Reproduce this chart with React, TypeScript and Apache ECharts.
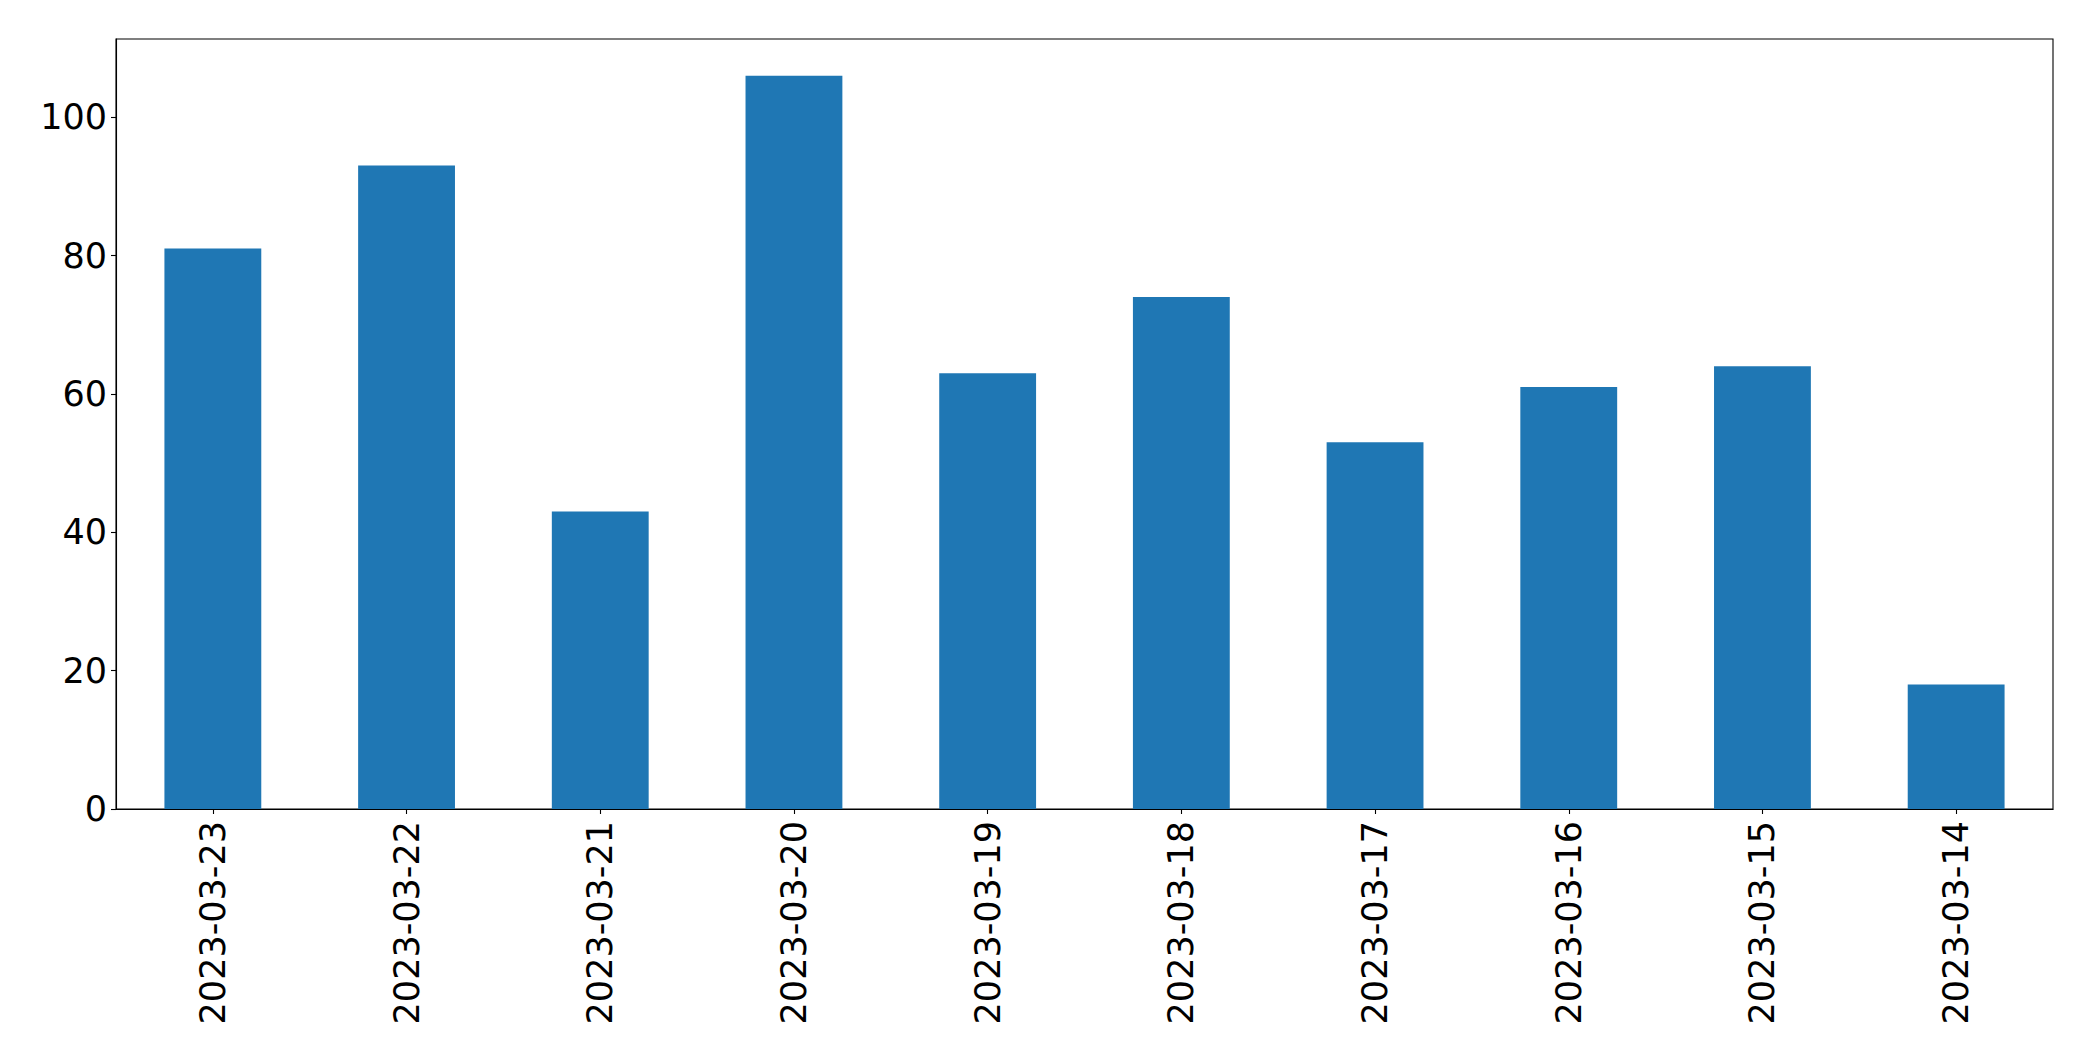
import React, { useEffect, useRef } from "react";
import * as echarts from "echarts";

const categories = [
  "2023-03-23",
  "2023-03-22",
  "2023-03-21",
  "2023-03-20",
  "2023-03-19",
  "2023-03-18",
  "2023-03-17",
  "2023-03-16",
  "2023-03-15",
  "2023-03-14",
];
const values = [81, 93, 43, 106, 63, 74, 53, 61, 64, 18];
const yMin = 0;
const yMax = 111.3;
const yInterval = 20;

export default function App() {
  const ref = useRef<HTMLDivElement>(null);
  useEffect(() => {
    if (!ref.current) return;
    const chart = echarts.init(ref.current, null, { renderer: "svg" });
    const font = "DejaVu Sans";
    chart.setOption({
      animation: false,
      backgroundColor: "#ffffff",
      grid: {
        left: 116,
        top: 39,
        width: 1937,
        height: 770,
        show: true,
        borderColor: "#000000",
        borderWidth: 1.1,
        backgroundColor: "transparent",
      },
      xAxis: {
        type: "category",
        data: categories,
        axisLine: { show: true, lineStyle: { color: "#000", width: 1.1 } },
        axisTick: {
          show: true,
          alignWithLabel: true,
          length: 5,
          inside: false,
          lineStyle: { color: "#000", width: 1.1 },
        },
        axisLabel: {
          rotate: 90,
          interval: 0,
          margin: 12,
          color: "#000",
          fontFamily: font,
          fontSize: 35,
        },
        splitLine: { show: false },
      },
      yAxis: {
        type: "value",
        min: yMin,
        max: yMax,
        interval: yInterval,
        axisLine: { show: true, lineStyle: { color: "#000", width: 1.1 } },
        axisTick: {
          show: true,
          length: 5,
          inside: false,
          lineStyle: { color: "#000", width: 1.1 },
        },
        axisLabel: {
          showMaxLabel: false,
          margin: 9,
          color: "#000",
          fontFamily: font,
          fontSize: 35,
          formatter: (v: number) => (v % yInterval === 0 ? String(v) : ""),
        },
        splitLine: { show: false },
      },
      series: [
        {
          type: "bar",
          data: values,
          barWidth: "50%",
          itemStyle: { color: "#1f77b4" },
        },
      ],
    });
    return () => chart.dispose();
  }, []);
  return (
    <div
      ref={ref}
      style={{ position: "fixed", left: 0, top: 0, width: 2093, height: 1061, background: "#fff" }}
    />
  );
}
